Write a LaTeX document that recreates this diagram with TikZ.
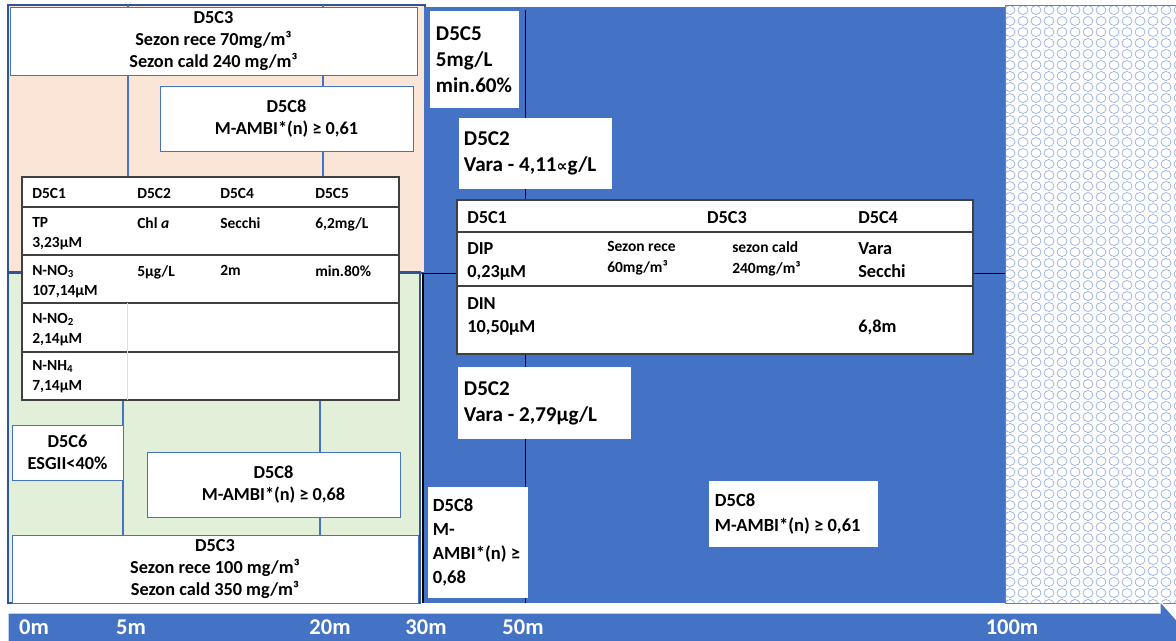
\documentclass[tikz,border=0pt]{standalone}
\usepackage{fontspec}
\setmainfont{Carlito}
\newfontfamily\symfont{DejaVu Sans}
\usetikzlibrary{positioning}
\definecolor{sea}{RGB}{68,114,196}
\definecolor{seaedge}{RGB}{47,85,151}
\definecolor{shore}{RGB}{251,229,214}
\definecolor{shelf}{RGB}{226,240,217}
\definecolor{inkgray}{RGB}{64,64,64}

\begin{document}
\begin{tikzpicture}[x=0.025cm, y=-0.025cm,
    box/.style={draw=sea, fill=white, line width=0.5pt, inner sep=0pt, align=center, font=\fontsize{13}{15.6}\selectfont\bfseries},
    bbox/.style={fill=white, inner xsep=0.15cm, inner ysep=0pt, align=flush left, font=\fontsize{15}{18.4}\selectfont\bfseries},
    sbox/.style={bbox, font=\fontsize{13.2}{17.2}\selectfont\bfseries},
    cell/.style={anchor=north west, inner sep=0pt, align=left, font=\fontsize{11}{14.2}\selectfont\bfseries},
    rcell/.style={cell, font=\fontsize{13}{16.3}\selectfont\bfseries},
    scell/.style={cell, font=\fontsize{11}{14.9}\selectfont\bfseries},
    tab/.style={draw=inkgray, line width=1.2pt, fill=white, inner sep=0pt},
    rowline/.style={inkgray, line width=1.1pt},
    divline/.style={black, line width=0.6pt},
    zoneline/.style={sea, line width=0.8pt},
    mlabel/.style={text=white, inner sep=0pt, font=\fontsize{16}{19}\selectfont\bfseries},
]
\useasboundingbox (0,0) rectangle (1176,640);
\clip (0,0) rectangle (1176,640);
\fill[white] (0,0) rectangle (1176,640);

% Left: shore and shelf zones
\fill[shore] (8,5) rectangle (425,273);
\fill[shelf] (8,272) rectangle (420,603);
\draw[seaedge, line width=1pt] (8,5) rectangle (425,273);
\draw[seaedge, line width=1pt] (8,272) rectangle (420,603);
\draw[zoneline] (128,5) -- (128,178); \draw[zoneline] (323,5) -- (323,178);
\draw[zoneline] (123,400) -- (123,603); \draw[zoneline] (320,400) -- (320,603);

% Center: open sea
\fill[sea] (424,7) rectangle (1005,603);
\draw[black, line width=0.8pt] (423,273) -- (423,603);
\coordinate (vtop) at (525,10); \coordinate (vbot) at (525,603);
\coordinate (hleft) at (423,273); \coordinate (hright) at (1005,273);
\draw[divline] (vtop) -- (vbot);
\draw[divline] (hleft) -- (hright);

% Right: hatched zone
\fill[white] (1005,5) rectangle (1176,603);
\begin{scope}
\clip (1005,5) rectangle (1176,603);
\foreach \i in {0,...,13}
  \foreach \j in {0,...,54}
    \draw[sea!60, line width=0.45pt] (1010+13*\i,10+11*\j) ellipse (5 and 4.5);
\end{scope}
\draw[gray, line width=0.6pt] (1005,5) rectangle (1176,603);

% Left boxes
\node[box, minimum width=10.175cm, minimum height=1.7cm] (winter) at (213.5,41) {D5C3\\Sezon rece 70mg/m³\\Sezon cald 240 mg/m³};
\node[box, minimum width=6.325cm, minimum height=1.625cm] (ambiT) at (286.5,118.5) {D5C8\\M-AMBI*(n) ≥ 0,61};
\node[box, minimum width=2.775cm, minimum height=1.375cm] (esg) at (67.5,452.5) {D5C6\\ESGII<40\%};
\node[box, minimum width=6.325cm, minimum height=1.625cm] (ambiG) at (273.5,484.5) {D5C8\\M-AMBI*(n) ≥ 0,68};
\node[box, minimum width=10.15cm, minimum height=1.7cm] (summer) at (215,569) {D5C3\\Sezon rece 100 mg/m³\\Sezon cald 350 mg/m³};

% Left table
\node[tab, minimum width=9.425cm, minimum height=5.575cm] (ltab) at (210.5,288.5) {};
\foreach \y in {207,255,303,352} \draw[rowline] (22,\y) -- (399,\y);
\draw[black!12, line width=0.5pt] (127,303) -- (127,400);
\node[cell] (lh1) at (32,188) {D5C1};
\node[cell] (lh2) at (137,188) {D5C2};
\node[cell] (lh3) at (220,188) {D5C4};
\node[cell] (lh4) at (315,188) {D5C5};
\node[cell] (tp) at (32,217) {TP\\3,23µM};
\node[cell] (chl) at (137,217) {Chl \textit{a}};
\node[cell] (sec) at (220,217) {Secchi};
\node[cell] (oxl) at (315,217) {6,2mg/L};
\node[cell] (no3) at (32,265) {N-NO\textsubscript{3}\\107,14µM};
\node[cell] (chlv) at (137,265) {5µg/L};
\node[cell] (secv) at (220,265) {2m};
\node[cell] (oxp) at (315,265) {min.80\%};
\node[cell] (no2) at (32,313) {N-NO\textsubscript{2}\\2,14µM};
\node[cell] (nh4) at (32,360) {N-NH\textsubscript{4}\\7,14µM};

% Sea boxes
\node[bbox, text width=1.925cm, minimum height=2.425cm] (oxy) at (474.5,59.5) {D5C5\\5mg/L\\min.60\%};
\node[bbox, inner xsep=0.125cm, text width=3.575cm, minimum height=1.775cm] (chlA) at (535.5,153.5) {D5C2\\\mbox{Vara - 4,11{\symfont\fontsize{11}{11}\selectfont ∝}g/L}};
\node[bbox, text width=4.025cm, minimum height=1.8cm] (chlB) at (544.5,403) {D5C2\\Vara - 2,79µg/L};
\node[sbox, inner xsep=0.125cm, text width=2.25cm, minimum height=2.775cm] (ambiS) at (478,542.5) {D5C8\\M-\\AMBI*(n) ≥\\0,68};
\node[sbox, text width=3.925cm, minimum height=1.65cm] (ambiR) at (793.5,514) {D5C8\\M-AMBI*(n) ≥ 0,61};

% Sea table
\node[tab, minimum width=12.9cm, minimum height=3.85cm] (rtab) at (715,277) {};
\foreach \y in {232,286} \draw[rowline] (457,\y) -- (973,\y);
\node[rcell] (rh1) at (467,211) {D5C1};
\node[rcell, anchor=north] (rh2) at (727,211) {D5C3};
\node[rcell] (rh3) at (858,211) {D5C4};
\node[rcell] (dip) at (467,242) {DIP\\0,23µM};
\node[scell] (cold) at (607,241) {Sezon rece\\60mg/m³};
\node[scell] (warm) at (732,241) {sezon cald\\240mg/m³};
\node[rcell] (vara) at (858,242) {Vara\\Secchi};
\node[rcell] (din) at (467,297) {DIN\\10,50µM};
\node[rcell] (secr) at (858,320) {6,8m};

% Distance bar
\path[fill=sea, draw=white, line width=1pt] (8,613) -- (1160,613) -- (1160,601) -- (1215,663) -- (8,663) -- cycle;
\node[mlabel] (m0) at (34,627) {0m};
\node[mlabel] (m5) at (131,627) {5m};
\node[mlabel] (m20) at (330,627) {20m};
\node[mlabel] (m30) at (426,627) {30m};
\node[mlabel] (m50) at (523,627) {50m};
\node[mlabel] (m100) at (1012,627) {100m};
\end{tikzpicture}
\end{document}
